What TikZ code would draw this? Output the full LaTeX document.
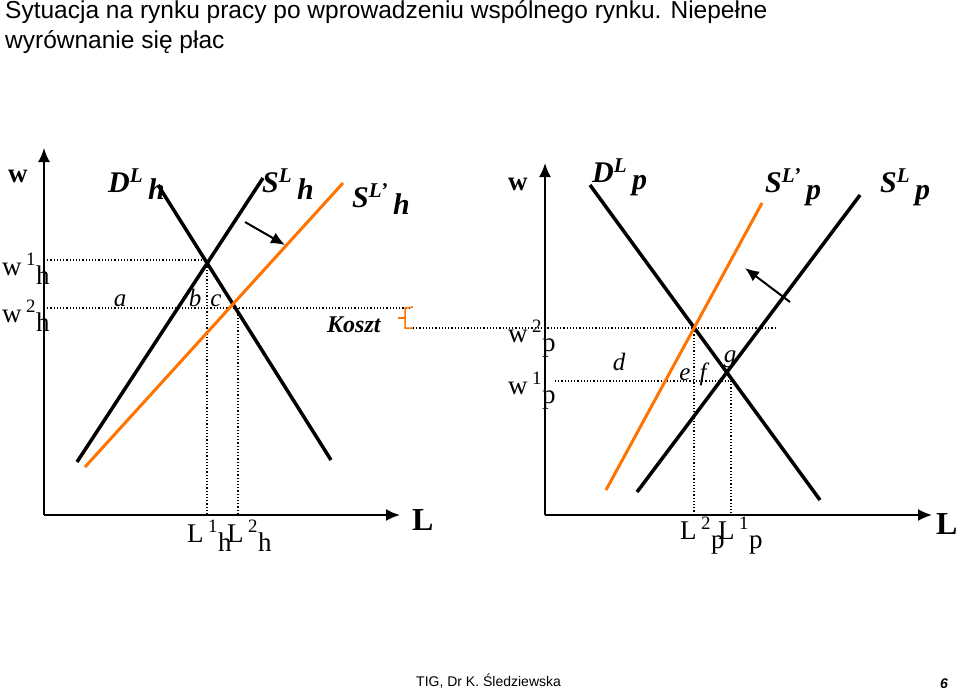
\documentclass[tikz,border=0pt]{standalone}
\usepackage{fontspec}
\usetikzlibrary{arrows.meta}
\setmainfont{Liberation Serif}
\newfontfamily\ttl{Liberation Sans}
\begin{document}
\begin{tikzpicture}[x=1pt,y=-1pt,
 curve/.style={line width=3.5pt},
 ocurve/.style={line width=3pt,draw=orange!90!red},
 axis/.style={line width=2pt,-{Latex[length=14pt,width=12pt]}},
 dot/.style={dotted,line width=1.2pt},
 lbl/.style={font=\fontsize{30}{30}\selectfont\bfseries\itshape,anchor=base west,inner sep=0},
 sm/.style={font=\fontsize{27}{27}\selectfont,anchor=base west,inner sep=0},
 it/.style={font=\fontsize{25}{25}\selectfont\itshape,anchor=base,inner sep=0}]
\useasboundingbox (0,0) rectangle (960,689);
\node[anchor=north west,inner sep=0,align=left,font=\ttl\fontsize{24.5}{30}\selectfont] (title) at (5,0) {Sytuacja na rynku pracy po wprowadzeniu wspólnego rynku. Niepełne\\wyrównanie się płac};
% left panel
\coordinate (lo) at (44,515);
\coordinate (ly) at (44,148);
\coordinate (lx) at (400,515);
\draw[axis] (lo) -- (ly);
\draw[axis] (lo) -- (lx);
\coordinate (dh1) at (158,185); \coordinate (dh2) at (331,460);
\coordinate (sh1) at (77,462); \coordinate (sh2) at (263,178);
\coordinate (so1) at (85,467); \coordinate (so2) at (343,183);
\coordinate (e1) at (207,260); \coordinate (e2) at (238,308);
\draw[dot] (44,260) -- (e1) -- (207,515);
\draw[dot] (44,308) -- (410,308);
\draw[dot] (e2) -- (238,515);
\draw[curve] (dh1) -- (dh2);
\draw[curve] (sh1) -- (sh2);
\draw[ocurve] (so1) -- (so2);
\draw[line width=2pt,-{Latex[length=14pt,width=12pt]}] (245,222) -- (285,245);
\node[sm] (lw) at (8,182) {\textbf{w}};
\node[sm] (w1h) at (2,275) {w\,\textsuperscript{1}\raisebox{-9pt}{h}};
\node[sm] (w2h) at (2,322) {w\,\textsuperscript{2}\raisebox{-9pt}{h}};
\node[lbl] (Dh) at (108,192) {D\textsuperscript{L}\raisebox{-7pt}{\,h}};
\node[lbl] (Sh) at (262,192) {S\textsuperscript{L}\raisebox{-7pt}{\,h}};
\node[lbl] (Soh) at (352,207) {S\textsuperscript{L’}\raisebox{-7pt}{\,h}};
\node[it] (a) at (120,306) {a};
\node[it] (b) at (195,306) {b};
\node[it] (c) at (216,306) {c};
\node[font=\fontsize{24}{24}\selectfont\bfseries\itshape,anchor=base west,inner sep=0] (koszt) at (327,332) {Koszt};
\draw[orange!90!red,line width=1.5pt] (413,307) -- (405,308) -- (405,328) -- (413,328);
\draw[orange!90!red,line width=1.5pt] (405,318) -- (398,318);
\draw[dot] (413,328) -- (775,328);
\node[sm] (L1h) at (187,542) {L\,\textsuperscript{1}\raisebox{-9pt}{h}};
\node[sm] (L2h) at (227,542) {L\,\textsuperscript{2}\raisebox{-9pt}{h}};
\node[font=\fontsize{32}{32}\selectfont\bfseries,anchor=base west,inner sep=0] (LL) at (412,530) {L};
% right panel
\coordinate (ro) at (545,515);
\coordinate (ry) at (545,163);
\coordinate (rx) at (932,515);
\draw[axis] (ro) -- (ry);
\draw[axis] (ro) -- (rx);
\coordinate (f1) at (694,328); \coordinate (f2) at (731,381);
\draw[dot] (555,381) -- (f2) -- (731,515);
\draw[dot] (f1) -- (694,515);
\draw[curve] (590,185) -- (820,500);
\draw[curve] (637,492) -- (860,195);
\draw[ocurve] (606,490) -- (762,203);
\draw[line width=2pt,-{Latex[length=14pt,width=12pt]}] (790,302) -- (745,268);
\node[sm] (rw) at (508,190) {\textbf{w}};
\node[sm] (w2p) at (508,342) {w\,\textsuperscript{2}\raisebox{-9pt}{p}};
\node[sm] (w1p) at (508,394) {w\,\textsuperscript{1}\raisebox{-9pt}{p}};
\node[lbl] (Dp) at (592,182) {D\textsuperscript{L}\raisebox{-7pt}{\,p}};
\node[lbl] (Sop) at (765,192) {S\textsuperscript{L’}\raisebox{-7pt}{\,p}};
\node[lbl] (Sp) at (880,192) {S\textsuperscript{L}\raisebox{-7pt}{\,p}};
\node[it] (d) at (619,370) {d};
\node[it] (e) at (685,380) {e};
\node[it] (f) at (703,380) {f};
\node[it] (g) at (730,362) {g};
\node[sm] (L2p) at (680,539) {L\,\textsuperscript{2}\raisebox{-9pt}{p}};
\node[sm] (L1p) at (718,539) {L\,\textsuperscript{1}\raisebox{-9pt}{p}};
\node[font=\fontsize{32}{32}\selectfont\bfseries,anchor=base west,inner sep=0] (RL) at (936,534) {L};
\node[font=\ttl\fontsize{14}{14}\selectfont,anchor=base west,inner sep=0] (foot) at (416,686) {TIG, Dr K. Śledziewska};
\node[font=\ttl\fontsize{14}{14}\selectfont\bfseries\itshape,anchor=base west,inner sep=0] (pg) at (940,688) {6};
\end{tikzpicture}
\end{document}
